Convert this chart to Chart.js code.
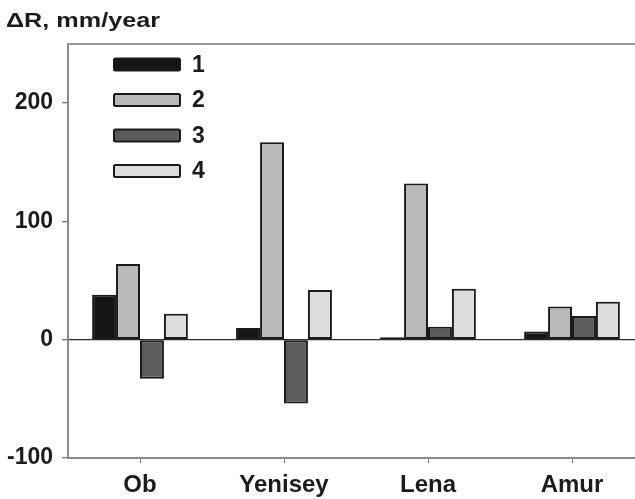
<!DOCTYPE html>
<html>
<head>
<meta charset="utf-8">
<script src="https://cdn.jsdelivr.net/npm/chart.js@4.4.1/dist/chart.umd.min.js"></script>
<style>
  html, body { margin: 0; padding: 0; background: #fff; overflow: hidden; }
  #wrap { width: 635px; height: 499px; overflow: hidden; position: relative; }
  #chart { position: absolute; left: 0; top: 0; }
</style>
</head>
<body>
<div id="wrap"><canvas id="chart" width="660" height="499"></canvas></div>
<script>
const rivers = ['Ob', 'Yenisey', 'Lena', 'Amur'];
const seriesNames = ['1', '2', '3', '4'];
const series1 = [38, 10, 2, 7];
const series2 = [64, 167, 132, 28];
const series3 = [-33, -54, 11, 20];
const series4 = [22, 42, 43, 32];
const yTickValues = [-100, 0, 100, 200];
const yMin = -100, yMax = 250;

const fills = ['#151515', '#b9b9b9', '#5c5c5c', '#dddddd'];
const FONT = "'Liberation Sans', Arial, sans-serif";

// legend in the upper left of the plot, plus the axis title and frame top
const decor = {
    id: 'decor',
    afterDraw(chart) {
        const c = chart.ctx;
        const area = chart.chartArea;
        c.save();
        c.strokeStyle = '#9a9a9a';
        c.lineWidth = 2;
        c.beginPath();
        c.moveTo(area.left - 1, area.top);
        c.lineTo(area.right, area.top);
        c.stroke();

        // the source figure's lettering is a bit stretched sideways
        c.save();
        c.translate(6, 27);
        c.scale(1.2, 1);
        c.fillStyle = '#1c1c1c';
        c.font = 'bold 21px ' + FONT;
        c.textBaseline = 'alphabetic';
        c.fillText('\u0394R, mm/year', 0, 0);
        c.restore();

        chart.data.datasets.forEach((ds, i) => {
            const cy = 64.5 + i * 35.5;
            c.fillStyle = ds.backgroundColor;
            c.strokeStyle = '#1a1a1a';
            c.lineWidth = 2;
            c.beginPath();
            c.roundRect(114, cy - 6, 66, 12, 1.5);
            c.fill();
            c.stroke();
            c.fillStyle = '#1c1c1c';
            c.font = 'bold 23px ' + FONT;
            c.textBaseline = 'middle';
            c.fillText(ds.label, 192, cy + 1);
        });
        c.restore();
    }
};

const datasets = [series1, series2, series3, series4].map((vals, i) => ({
    label: seriesNames[i],
    data: vals,
    backgroundColor: fills[i],
    borderColor: '#1a1a1a',
    borderWidth: 2,
    borderSkipped: false,
    barPercentage: 1,
    categoryPercentage: 0.665
}));

new Chart(document.getElementById('chart'), {
    type: 'bar',
    data: { labels: rivers, datasets: datasets },
    options: {
        responsive: false,
        animation: false,
        layout: { padding: { top: 44, right: 16, bottom: 0, left: 0 } },
        plugins: {
            legend: { display: false },
            tooltip: { enabled: false },
            title: { display: false }
        },
        scales: {
            x: {
                offset: true,
                grid: {
                    offset: false,
                    color: 'transparent',
                    tickColor: '#777',
                    tickLength: 5,
                    drawTicks: true
                },
                border: { color: '#8a8a8a', width: 2 },
                ticks: {
                    color: '#1c1c1c',
                    font: { family: FONT, size: 24, weight: 'bold' },
                    padding: 8,
                    maxRotation: 0
                },
                afterFit(scale) { scale.height = 41; }
            },
            y: {
                min: yMin,
                max: yMax,
                afterBuildTicks(scale) {
                    scale.ticks = yTickValues.map(v => ({ value: v }));
                },
                grid: {
                    color: ctx => (ctx.tick && ctx.tick.value === 0) ? '#2a2a2a' : 'transparent',
                    lineWidth: 1.3,
                    tickColor: '#777',
                    tickLength: 6
                },
                border: { color: '#8a8a8a', width: 2 },
                ticks: {
                    color: '#1c1c1c',
                    font: { family: FONT, size: 23, weight: 'bold' },
                    padding: 9
                },
                afterFit(scale) { scale.width = 68; }
            }
        }
    },
    plugins: [decor]
});
</script>
</body>
</html>
